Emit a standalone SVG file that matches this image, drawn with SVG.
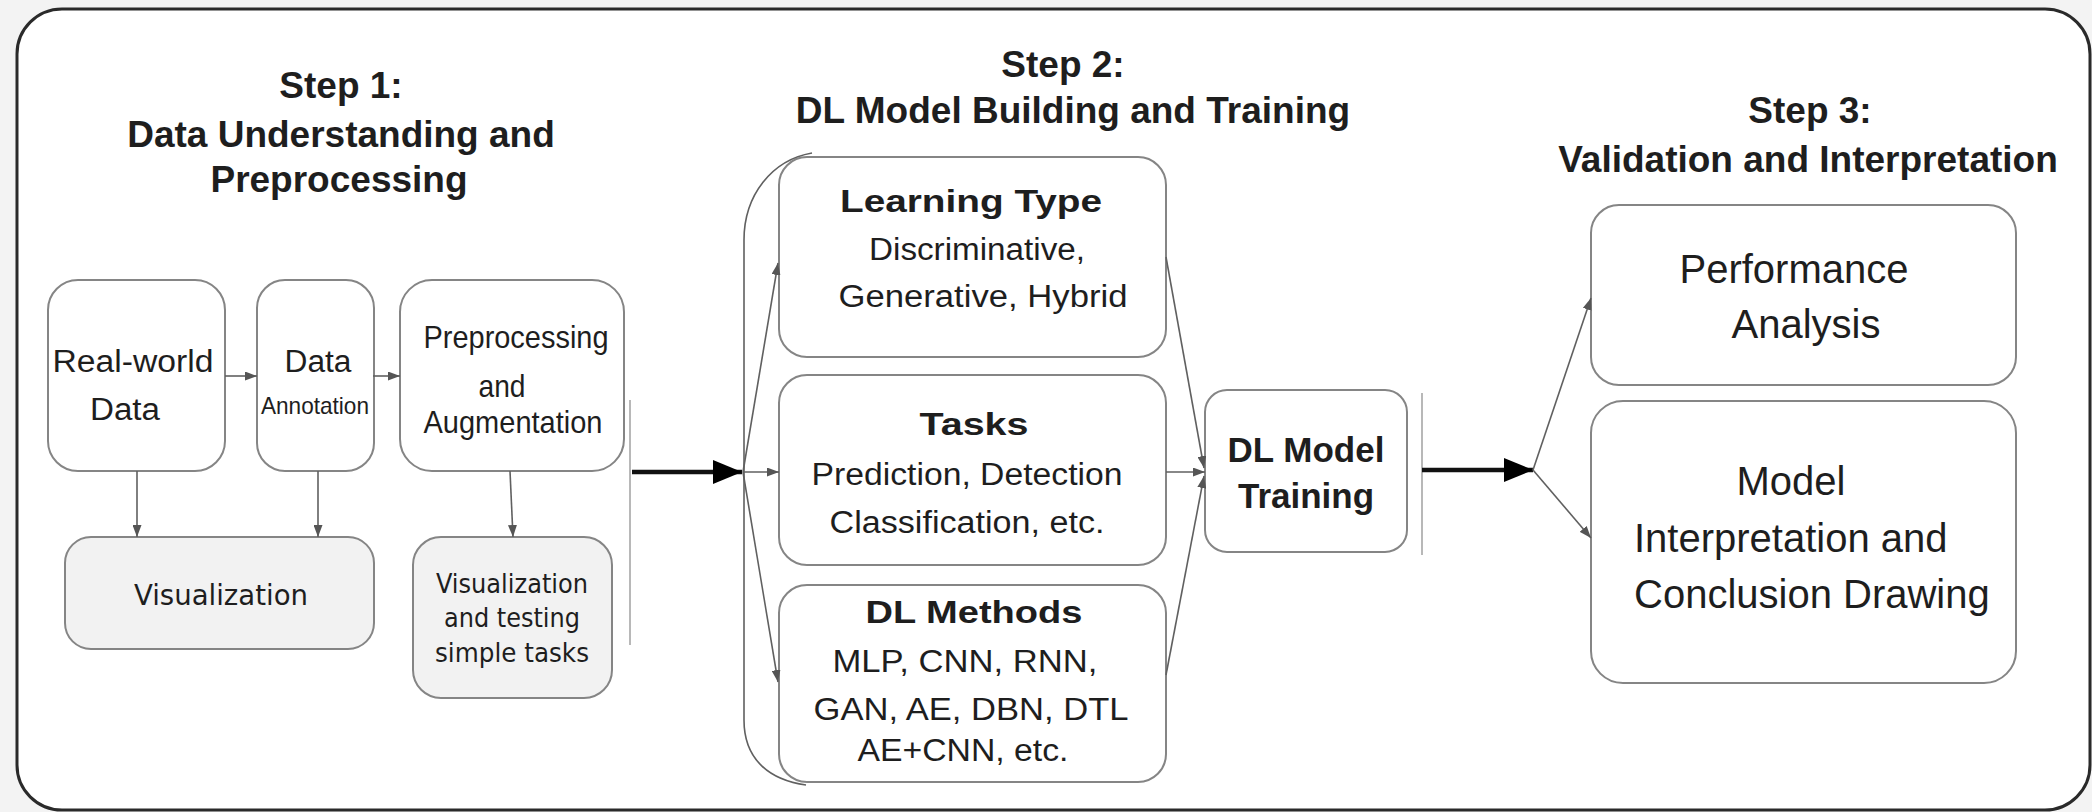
<svg xmlns="http://www.w3.org/2000/svg" width="2092" height="812" viewBox="0 0 2092 812">
<style>
.t{font-family:"Liberation Sans",Arial,sans-serif;fill:#1e1e1e;text-anchor:middle}
.b{font-weight:bold}
.title{font-size:37px;font-weight:bold}
.dv{font-family:"DejaVu Sans Condensed","DejaVu Sans",sans-serif;fill:#1e1e1e;text-anchor:middle}
.box{fill:#fff;stroke:#858585;stroke-width:2}
.gbox{fill:#f2f2f2;stroke:#858585;stroke-width:2}
.ln{stroke:#606060;stroke-width:1.6;fill:none}
.thick{stroke:#111;stroke-width:4.5;fill:none}
.div{stroke:#b8b8b8;stroke-width:2;fill:none}
</style>
<defs>
<marker id="sa" markerUnits="userSpaceOnUse" markerWidth="13" markerHeight="9" refX="12" refY="4.5" orient="auto">
<path d="M0,0 L12,4.5 L0,9 Z" fill="#555"/>
</marker>
<marker id="ta" markerUnits="userSpaceOnUse" markerWidth="30" markerHeight="24" refX="29" refY="12" orient="auto">
<path d="M0,0 L29,12 L0,24 Z" fill="#000"/>
</marker>
</defs>
<rect x="0" y="0" width="2092" height="812" fill="#f3f3f3"/>
<rect x="17" y="9" width="2073" height="801" rx="45" ry="45" fill="#fff" stroke="#2a2a2a" stroke-width="3"/>

<g id="step1-title">
<text class="t title" x="341" y="98">Step 1:</text>
<text class="t title" x="341" y="147">Data Understanding and</text>
<text class="t title" x="339" y="192">Preprocessing</text>
</g>
<g id="step2-title">
<text class="t title" x="1063" y="77">Step 2:</text>
<text class="t title" x="1073" y="123">DL Model Building and Training</text>
</g>
<g id="step3-title">
<text class="t title" x="1810" y="123">Step 3:</text>
<text class="t title" x="1808" y="172">Validation and Interpretation</text>
</g>

<g id="real-world-data">
<rect class="box" x="48" y="280" width="177" height="191" rx="30"/>
<text class="t" x="133" y="372" font-size="31" textLength="161" lengthAdjust="spacingAndGlyphs">Real-world</text>
<text class="t" x="125" y="420" font-size="31" textLength="70" lengthAdjust="spacingAndGlyphs">Data</text>
</g>
<g id="data-annotation">
<rect class="box" x="257" y="280" width="117" height="191" rx="28"/>
<text class="t" x="318" y="372" font-size="31" textLength="67" lengthAdjust="spacingAndGlyphs">Data</text>
<text class="t" x="315" y="414" font-size="24" textLength="108" lengthAdjust="spacingAndGlyphs">Annotation</text>
</g>
<g id="preprocessing">
<rect class="box" x="400" y="280" width="224" height="191" rx="32"/>
<text class="t" x="516" y="348" font-size="32" textLength="185" lengthAdjust="spacingAndGlyphs">Preprocessing</text>
<text class="t" x="502" y="397" font-size="32" textLength="47" lengthAdjust="spacingAndGlyphs">and</text>
<text class="t" x="513" y="433" font-size="32" textLength="179" lengthAdjust="spacingAndGlyphs">Augmentation</text>
</g>
<g id="visualization">
<rect class="gbox" x="65" y="537" width="309" height="112" rx="26"/>
<text class="dv" x="221" y="605" font-size="29" textLength="174" lengthAdjust="spacingAndGlyphs">Visualization</text>
</g>
<g id="visualization-testing">
<rect class="gbox" x="413" y="537" width="199" height="161" rx="28"/>
<text class="dv" x="512" y="593" font-size="27" textLength="152" lengthAdjust="spacingAndGlyphs">Visualization</text>
<text class="dv" x="512" y="627" font-size="27" textLength="136" lengthAdjust="spacingAndGlyphs">and testing</text>
<text class="dv" x="512" y="662" font-size="27" textLength="154" lengthAdjust="spacingAndGlyphs">simple tasks</text>
</g>

<g id="learning-type">
<rect class="box" x="779" y="157" width="387" height="200" rx="28"/>
<text class="t b" x="971" y="212" font-size="31" textLength="262" lengthAdjust="spacingAndGlyphs">Learning Type</text>
<text class="t" x="977" y="260" font-size="31" textLength="216" lengthAdjust="spacingAndGlyphs">Discriminative,</text>
<text class="t" x="983" y="307" font-size="31" textLength="289" lengthAdjust="spacingAndGlyphs">Generative, Hybrid</text>
</g>
<g id="tasks">
<rect class="box" x="779" y="375" width="387" height="190" rx="28"/>
<text class="t b" x="974" y="435" font-size="31" textLength="109" lengthAdjust="spacingAndGlyphs">Tasks</text>
<text class="t" x="967" y="485" font-size="31" textLength="311" lengthAdjust="spacingAndGlyphs">Prediction, Detection</text>
<text class="t" x="967" y="533" font-size="31" textLength="275" lengthAdjust="spacingAndGlyphs">Classification, etc.</text>
</g>
<g id="dl-methods">
<rect class="box" x="779" y="585" width="387" height="197" rx="28"/>
<text class="t b" x="974" y="623" font-size="31" textLength="217" lengthAdjust="spacingAndGlyphs">DL Methods</text>
<text class="t" x="965" y="672" font-size="31" textLength="265" lengthAdjust="spacingAndGlyphs">MLP, CNN, RNN,</text>
<text class="t" x="971" y="720" font-size="31" textLength="315" lengthAdjust="spacingAndGlyphs">GAN, AE, DBN, DTL</text>
<text class="t" x="963" y="761" font-size="31" textLength="211" lengthAdjust="spacingAndGlyphs">AE+CNN, etc.</text>
</g>
<g id="dl-model-training">
<rect class="box" x="1205" y="390" width="202" height="162" rx="22"/>
<text class="t b" x="1306" y="462" font-size="35">DL Model</text>
<text class="t b" x="1306" y="508" font-size="35">Training</text>
</g>

<g id="performance-analysis">
<rect class="box" x="1591" y="205" width="425" height="180" rx="28"/>
<text class="t" x="1794" y="283" font-size="40">Performance</text>
<text class="t" x="1806" y="338" font-size="40">Analysis</text>
</g>
<g id="model-interpretation">
<rect class="box" x="1591" y="401" width="425" height="282" rx="32"/>
<text class="t" x="1791" y="495" font-size="40">Model</text>
<text class="t" x="1634" y="552" font-size="40" style="text-anchor:start">Interpretation and</text>
<text class="t" x="1634" y="608" font-size="40" style="text-anchor:start">Conclusion Drawing</text>
</g>

<g id="connectors">
<line class="div" x1="630" y1="400" x2="630" y2="645"/>
<line class="div" x1="1422" y1="393" x2="1422" y2="555" stroke="#999"/>
<path class="ln" d="M812,153 C772,160 744,195 744,240 L744,720 C744,760 770,780 806,785" stroke="#777"/>
<line class="ln" x1="225" y1="376" x2="257" y2="376" marker-end="url(#sa)"/>
<line class="ln" x1="373" y1="376" x2="400" y2="376" marker-end="url(#sa)"/>
<line class="ln" x1="137" y1="471" x2="137" y2="537" marker-end="url(#sa)"/>
<line class="ln" x1="318" y1="471" x2="318" y2="537" marker-end="url(#sa)"/>
<line class="ln" x1="510" y1="471" x2="513" y2="537" marker-end="url(#sa)"/>
<line class="thick" x1="632" y1="472" x2="742" y2="472" marker-end="url(#ta)"/>
<line class="ln" x1="743" y1="472" x2="778" y2="263" marker-end="url(#sa)"/>
<line class="ln" x1="743" y1="472" x2="779" y2="472" marker-end="url(#sa)"/>
<line class="ln" x1="743" y1="472" x2="778" y2="682" marker-end="url(#sa)"/>
<line class="ln" x1="1166" y1="257" x2="1204" y2="468" marker-end="url(#sa)"/>
<line class="ln" x1="1166" y1="472" x2="1205" y2="472" marker-end="url(#sa)"/>
<line class="ln" x1="1166" y1="675" x2="1204" y2="476" marker-end="url(#sa)"/>
<line class="thick" x1="1422" y1="470" x2="1533" y2="470" marker-end="url(#ta)"/>
<line class="ln" x1="1533" y1="470" x2="1591" y2="298" marker-end="url(#sa)"/>
<line class="ln" x1="1533" y1="470" x2="1591" y2="538" marker-end="url(#sa)"/>
</g>
</svg>
